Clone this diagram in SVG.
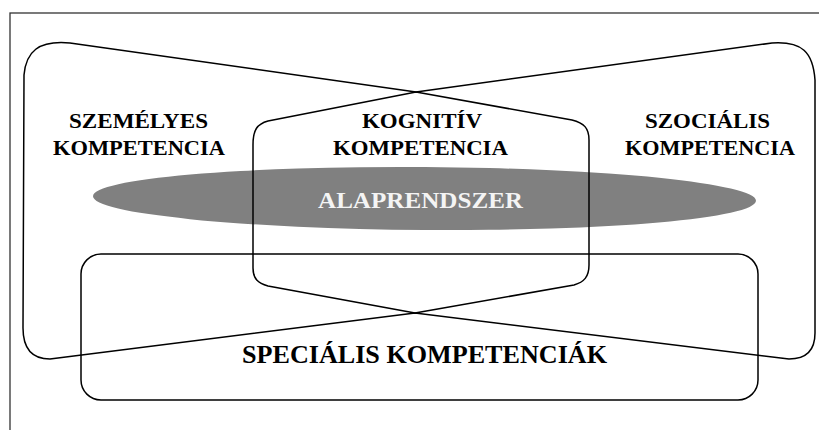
<svg xmlns="http://www.w3.org/2000/svg" width="819" height="430" viewBox="0 0 819 430">
  <style>
    .frame { fill: none; stroke: #333; stroke-width: 1.3; }
    .outline { fill: none; stroke: #000; stroke-width: 1.5; stroke-linejoin: round; }
    .lbl { font-family: "Liberation Serif", "Times New Roman", serif; font-weight: bold; font-size: 22px; fill: #000; text-anchor: middle; }
    .big { font-size: 25px; }
    .inv { fill: #f4f4f4; font-size: 24px; }
  </style>
  <rect width="819" height="430" fill="#fff"/>
  <rect class="frame" x="10" y="13" width="830" height="440"/>
  <g id="alaprendszer">
    <ellipse cx="424.5" cy="198.5" rx="331.5" ry="31.5" fill="#808080" transform="rotate(0.4 424.5 198.5)"/>
  </g>
  <g id="specialis">
    <rect class="outline" x="81" y="254" width="677" height="146" rx="20" ry="20"/>
    <text class="lbl big" x="424.5" y="363" textLength="365" lengthAdjust="spacingAndGlyphs">SPECIÁLIS KOMPETENCIÁK</text>
  </g>
  <g id="szemelyes-szocialis">
    <path class="outline" d="M 416,92 L 70,43 C 38,40 26,52 24,75 L 23,328 C 23,350 33,359 50,359 L 415,313 L 789,359 C 806,359 815,350 815,333 L 815,80 C 813,52 802,41 772,43 Z"/>
    <text class="lbl" x="138.5" y="128" textLength="139" lengthAdjust="spacingAndGlyphs">SZEMÉLYES</text>
    <text class="lbl" x="139" y="155" textLength="172" lengthAdjust="spacingAndGlyphs">KOMPETENCIA</text>
    <text class="lbl" x="707.5" y="128" textLength="125" lengthAdjust="spacingAndGlyphs">SZOCIÁLIS</text>
    <text class="lbl" x="710" y="155" textLength="170" lengthAdjust="spacingAndGlyphs">KOMPETENCIA</text>
  </g>
  <g id="kognitiv">
    <path class="outline" d="M 416,92 L 268,121 C 257,124 253,130 253,145 L 253,268 C 253,279 258,283 268,286 L 415,313 L 574,285 C 584,282 589,277 589,265 L 589,140 C 589,128 584,123 572,120 Z"/>
    <text class="lbl" x="422" y="128" textLength="120" lengthAdjust="spacingAndGlyphs">KOGNITÍV</text>
    <text class="lbl" x="420.5" y="155" textLength="175" lengthAdjust="spacingAndGlyphs">KOMPETENCIA</text>
  </g>
  <g id="alaprendszer-label">
    <text class="lbl inv" x="420.5" y="208" textLength="205" lengthAdjust="spacingAndGlyphs">ALAPRENDSZER</text>
  </g>
</svg>
